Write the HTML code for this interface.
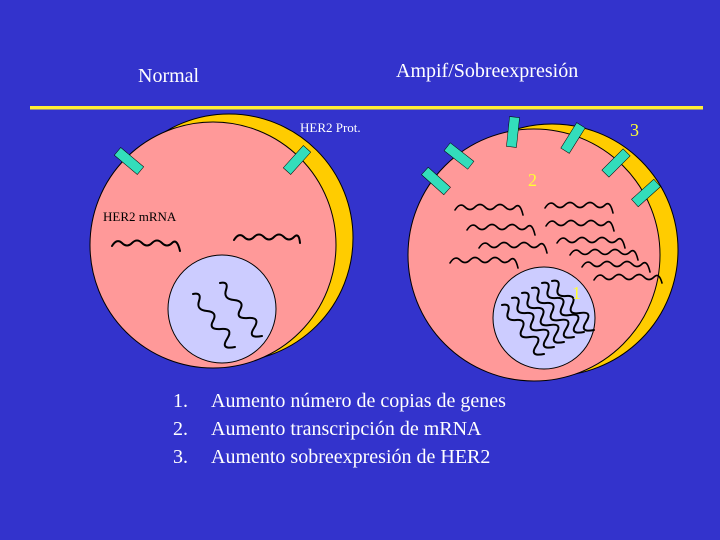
<!DOCTYPE html>
<html><head><meta charset="utf-8"><style>
html,body{margin:0;padding:0;background:#3333cc;}
body{position:relative;width:720px;height:540px;overflow:hidden;}
svg{display:block;position:absolute;left:0;top:0;}
.t{position:absolute;font-family:"Liberation Serif","Times New Roman",serif;color:#fff;font-size:20px;line-height:1;white-space:nowrap;}
</style></head><body>
<svg width="720" height="540" viewBox="0 0 720 540" xmlns="http://www.w3.org/2000/svg">
<rect width="720" height="540" fill="#3333cc"/>
<rect x="30" y="106" width="673" height="3.5" fill="#ffee33"/>

<circle cx="229" cy="238" r="124" fill="#ffcc00" stroke="#000" stroke-width="1"/>
<circle cx="213" cy="245" r="123" fill="#ff9999" stroke="#000" stroke-width="1"/>
<circle cx="222" cy="309" r="54" fill="#ccccff" stroke="#000" stroke-width="1"/>
<g fill="#33ddbb" stroke="#000" stroke-width="0.5">
<rect x="-15" y="-5" width="30" height="10" transform="translate(129,161) rotate(40)"/>
<rect x="-15" y="-5" width="30" height="10" transform="translate(297,160) rotate(-48)"/>
</g>
<g fill="none" stroke="#000" stroke-width="2" stroke-linecap="round">
<path d="M112 246 q5 -8 10 -3 t10 0 t10 0 t10 0 t10 0 t10 0 t8 8"/>
<path d="M234 240 q5 -8 10 -3 t10 0 t10 0 t10 0 t10 0 t10 0 t6 6"/>
<path d="M193 294 q9 -2 6 7 t8 10 t6 10 t8 8 t6 10 t8 8"/>
<path d="M220 283 q9 -2 6 7 t8 10 t6 10 t8 8 t6 10 t8 8"/>
</g>

<circle cx="552" cy="250" r="126" fill="#ffcc00" stroke="#000" stroke-width="1"/>
<circle cx="534" cy="255" r="126" fill="#ff9999" stroke="#000" stroke-width="1"/>
<circle cx="544" cy="318" r="51" fill="#ccccff" stroke="#000" stroke-width="1"/>
<g fill="#33ddbb" stroke="#000" stroke-width="0.5">
<rect x="-15" y="-5" width="30" height="10" transform="translate(436,181) rotate(42)"/>
<rect x="-15" y="-5" width="30" height="10" transform="translate(459,156) rotate(38)"/>
<rect x="-15" y="-5" width="30" height="10" transform="translate(513,132) rotate(-84)"/>
<rect x="-15" y="-5" width="30" height="10" transform="translate(573,138) rotate(-58)"/>
<rect x="-15" y="-5" width="30" height="10" transform="translate(616,163) rotate(-45)"/>
<rect x="-15" y="-5" width="30" height="10" transform="translate(646,193) rotate(-42)"/>
</g>
<g fill="none" stroke="#000" stroke-width="1.6" stroke-linecap="round">
<path d="M455 210 q5 -8 10 -3 t10 0 t10 0 t10 0 t10 0 t10 0 t8 8"/>
<path d="M467 230 q5 -8 10 -3 t10 0 t10 0 t10 0 t10 0 t10 0 t8 8"/>
<path d="M479 248 q5 -8 10 -3 t10 0 t10 0 t10 0 t10 0 t10 0 t8 8"/>
<path d="M450 263 q5 -8 10 -3 t10 0 t10 0 t10 0 t10 0 t10 0 t8 8"/>
<path d="M545 208 q5 -8 10 -3 t10 0 t10 0 t10 0 t10 0 t10 0 t8 8"/>
<path d="M546 226 q5 -8 10 -3 t10 0 t10 0 t10 0 t10 0 t10 0 t8 8"/>
<path d="M557 243 q5 -8 10 -3 t10 0 t10 0 t10 0 t10 0 t10 0 t8 8"/>
<path d="M570 255 q5 -8 10 -3 t10 0 t10 0 t10 0 t10 0 t10 0 t8 8"/>
<path d="M582 267 q5 -8 10 -3 t10 0 t10 0 t10 0 t10 0 t10 0 t8 8"/>
<path d="M594 280 q5 -8 10 -3 t10 0 t10 0 t10 0 t10 0 t10 0 t8 6"/>
</g>
<g fill="none" stroke="#000" stroke-width="2" stroke-linecap="round">
<path d="M502 305 q9 -2 6 7 t8 8 t6 9 t8 8 t6 9 t8 8"/>
<path d="M512 298 q9 -2 6 7 t8 8 t6 9 t8 8 t6 9 t8 8"/>
<path d="M522 293 q9 -2 6 7 t8 8 t6 9 t8 8 t6 9 t8 8"/>
<path d="M532 288 q9 -2 6 7 t8 8 t6 9 t8 8 t6 9 t8 8"/>
<path d="M542 283 q9 -2 6 7 t8 8 t6 9 t8 8 t6 9 t8 8"/>
<path d="M552 281 q9 -2 6 7 t8 8 t6 9 t8 8 t6 9 t8 8"/>
</g>
</svg>
<div class="t" style="left:138px;top:66px;">Normal</div>
<div class="t" style="left:396px;top:61px;">Ampif/Sobreexpresión</div>
<div class="t" style="left:300px;top:121px;font-size:13px;">HER2 Prot.</div>
<div class="t" style="left:103px;top:210px;font-size:13px;color:#000;">HER2 mRNA</div>
<div class="t" style="left:630px;top:121px;font-size:18px;color:#ffff33;">3</div>
<div class="t" style="left:528px;top:171px;font-size:18px;color:#ffff33;">2</div>
<div class="t" style="left:572px;top:284px;font-size:18px;color:#ffff33;">1</div>
<div class="t" style="left:173px;top:391px;">1.</div><div class="t" style="left:211px;top:391px;">Aumento número de copias de genes</div>
<div class="t" style="left:173px;top:419px;">2.</div><div class="t" style="left:211px;top:419px;">Aumento transcripción de mRNA</div>
<div class="t" style="left:173px;top:447px;">3.</div><div class="t" style="left:211px;top:447px;">Aumento sobreexpresión de HER2</div>
</body></html>
